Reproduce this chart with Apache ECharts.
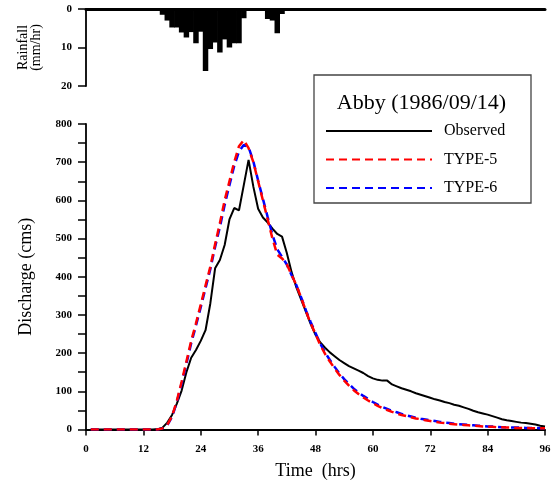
<!DOCTYPE html>
<html><head><meta charset="utf-8">
<script src="https://cdn.jsdelivr.net/npm/echarts@6/dist/echarts.min.js"></script>
<style>html,body{margin:0;padding:0;background:#fff}#c{width:558px;height:488px}</style>
</head><body><div id="c"></div>
<script>
const hours = [1,2,3,4,5,6,7,8,9,10,11,12,13,14,15,16,17,18,19,20,21,22,23,24,25,26,27,28,29,30,31,32,33,34,35,36,37,38,39,40,41,42,43,44,45,46,47,48,49,50,51,52,53,54,55,56,57,58,59,60,61,62,63,64,65,66,67,68,69,70,71,72,73,74,75,76,77,78,79,80,81,82,83,84,85,86,87,88,89,90,91,92,93,94,95,96];
const rainfall = [0,0,0,0,0,0,0,0,0,0,0,0,0,0,0,1.5,3.0,4.8,4.8,6.1,7.4,6.0,8.9,5.9,16.1,10.4,8.7,11.3,7.9,10.0,8.9,8.9,2.4,0,0.5,0,0,2.6,3.0,6.3,1.3,0,0,0,0,0,0,0,0,0,0,0,0,0,0,0,0,0,0,0,0,0,0,0,0,0,0,0,0,0,0,0,0,0,0,0,0,0,0,0,0,0,0,0,0,0,0,0,0,0,0,0,0,0,0,0];
const observed = [0,0,0,0,0,0,0,0,0,0,0,0,0,0,1,5,18,38,68,102,150,188,208,232,260,330,422,444,483,550,580,574,640,706,636,578,555,542,526,512,505,462,412,372,340,308,276,248,228,214,202,192,182,174,166,160,154,148,140,134,130,128,128,118,113,108,104,100,95,91,87,83,79,76,72,69,65,62,58,54,49,45,42,39,35,31,27,24,22,20,18,17,15,13,10,8];
const type5 = [0,0,0,0,0,0,0,0,0,0,0,0,0,0,0,3,12,35,75,125,178,232,278,327,377,426,485,540,600,650,700,742,758,737,700,650,600,550,500,458,448,433,405,378,345,310,278,250,221,198,178,160,143,128,115,103,93,84,76,69,62,56,51,46,42,38,35,32,29,27,24,22,20,18,17,15,14,13,12,11,10,9,8,7,7,6,6,5,5,4,4,4,3,3,3,3];
const type6 = [0,0,0,0,0,0,0,0,0,0,0,0,0,0,0,3,11,33,72,120,172,226,272,320,370,420,478,530,588,640,690,728,745,740,702,652,604,556,510,472,452,432,404,378,346,312,281,253,225,202,182,164,147,132,119,107,97,88,80,72,65,59,54,49,45,41,37,34,31,28,26,24,22,20,18,17,15,14,13,12,11,10,9,8,8,7,6,6,5,5,5,4,4,4,3,3];
const xTicks = {min:0, max:96, interval:12};
const qTicks = {min:0, max:800, interval:100};
const rTicks = {min:0, max:20, interval:10};

const F = "'Times New Roman','Liberation Serif','DejaVu Serif',serif";
const L = 86, R = 13;
const barW = (558 - L - R) / 96 + 0.7;
const chart = echarts.init(document.getElementById('c'), null, {renderer:'canvas'});
const lbl = {fontFamily:F, fontSize:11, fontWeight:'bold', color:'#000'};
const axLine = {lineStyle:{color:'#000', width:1.8}};
const pair = arr => hours.map((h,i)=>[h, arr[i]]);
chart.setOption({
  animation:false,
  backgroundColor:'#fff',
  grid:[
    {left:L, right:R, top:9, height:77},
    {left:L, right:R, top:124, bottom:58.5}
  ],
  xAxis:[
    {gridIndex:0, type:'value', min:xTicks.min, max:xTicks.max, interval:xTicks.interval, position:'top',
     axisLine:{lineStyle:{color:'#000', width:3}}, axisTick:{show:false}, axisLabel:{show:false}, splitLine:{show:false}},
    {gridIndex:1, type:'value', min:xTicks.min, max:xTicks.max, interval:xTicks.interval,
     axisLine:axLine, axisTick:{length:6, lineStyle:{color:'#000', width:1.5}},
     axisLabel:Object.assign({margin:14}, lbl), splitLine:{show:false},
     name:'Time  (hrs)', nameLocation:'middle', nameGap:33,
     nameTextStyle:{fontFamily:F, fontSize:18, color:'#000'}}
  ],
  yAxis:[
    {gridIndex:0, type:'value', inverse:true, min:rTicks.min, max:rTicks.max, interval:rTicks.interval,
     axisLine:Object.assign({show:true}, axLine), axisTick:{show:true, length:8, lineStyle:{color:'#000', width:1.5}},
     axisLabel:Object.assign({margin:14}, lbl), splitLine:{show:false},
     name:'Rainfall\n(mm/hr)', nameLocation:'middle', nameRotate:90, nameGap:43,
     nameTextStyle:{fontFamily:F, fontSize:14, lineHeight:13, color:'#000'}},
    {gridIndex:1, type:'value', min:qTicks.min, max:qTicks.max, interval:qTicks.interval,
     axisLine:Object.assign({show:true}, axLine), axisTick:{show:true, length:8, lineStyle:{color:'#000', width:1.5}},
     minorTick:{show:true, splitNumber:2, length:8, lineStyle:{color:'#000', width:1.5}},
     axisLabel:Object.assign({margin:14}, lbl), splitLine:{show:false},
     name:'Discharge (cms)', nameLocation:'middle', nameRotate:90, nameGap:51,
     nameTextStyle:{fontFamily:F, fontSize:18, color:'#000'}}
  ],
  legend:{
    orient:'vertical', left:320, top:118, itemWidth:106, itemHeight:14, itemGap:12.5,
    data:['Observed','TYPE-5','TYPE-6'],
    itemStyle:{opacity:0, borderWidth:0},
    textStyle:{fontFamily:F, fontSize:16, color:'#000', padding:[0,0,0,7]}
  },
  graphic:[
    {type:'rect', z:0, shape:{x:314, y:75, width:217, height:128}, style:{fill:'#fff', stroke:'#444', lineWidth:1.3}},
    {type:'text', z:1, x:421.5, y:103, style:{text:'Abby (1986/09/14)', font:'22px '+F, fill:'#000', align:'center', verticalAlign:'middle', textAlign:'center', textVerticalAlign:'middle'}}
  ],
  series:[
    {type:'bar', xAxisIndex:0, yAxisIndex:0, data:pair(rainfall), barWidth:barW, barGap:'-100%', itemStyle:{color:'#000'}, silent:true},
    {name:'Observed', type:'line', xAxisIndex:1, yAxisIndex:1, data:pair(observed), symbol:'none', z:3,
     lineStyle:{color:'#000', width:2}, itemStyle:{color:'#000'}},
    {name:'TYPE-6', type:'line', xAxisIndex:1, yAxisIndex:1, data:pair(type6), symbol:'none', z:3,
     lineStyle:{color:'#0000ff', width:2.5, type:[8,5]}, itemStyle:{color:'#0000ff'}},
    {name:'TYPE-5', type:'line', xAxisIndex:1, yAxisIndex:1, data:pair(type5), symbol:'none', z:4,
     lineStyle:{color:'#ff0000', width:2.5, type:[8,5]}, itemStyle:{color:'#ff0000'}}
  ]
});
</script></body></html>
